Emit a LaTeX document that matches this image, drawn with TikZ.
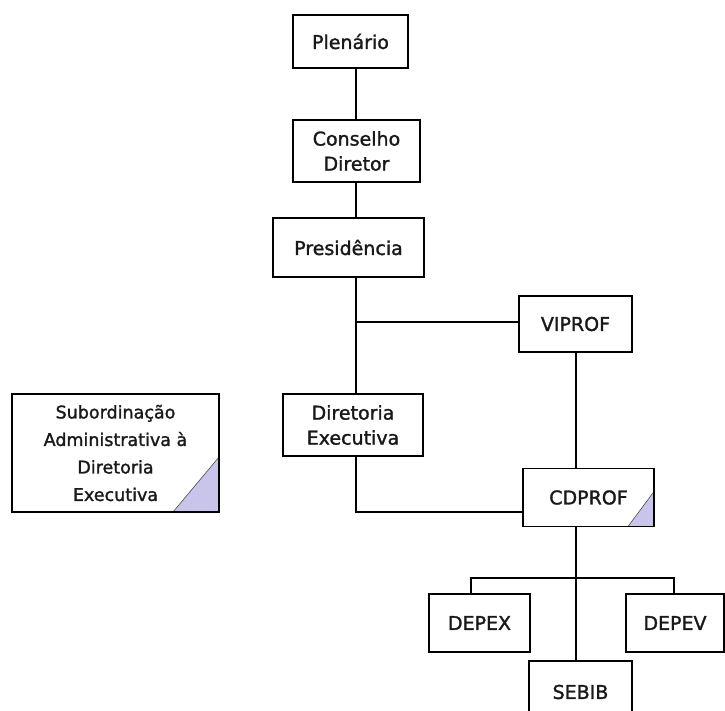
\documentclass[tikz,border=0pt]{standalone}
\usepackage{fontspec}
\setmainfont{DejaVu Sans}[FakeBold=1.5]
\begin{document}
\begin{tikzpicture}[x=1pt,y=-1pt,
  box/.style={draw=black,line width=1.6pt,fill=white,align=center,inner sep=0pt,outer sep=0pt,
    text=black!90,font=\fontsize{19}{25}\selectfont},
  link/.style={draw=black,line width=1.6pt},
  corner/.style={fill={rgb,255:red,200;green,196;blue,234},draw=black!70,line width=0.6pt}]
\clip (0,0) rectangle (725,710);
\fill[white] (0,0) rectangle (725,710);
\coordinate (spine) at (356,0);
\node[box,minimum width=115pt,minimum height=53pt] (plen) at (350.5,41.5) {Plenário};
\node[box,minimum width=127pt,minimum height=62pt] (cons) at (356.5,151) {Conselho\\Diretor};
\node[box,minimum width=151pt,minimum height=59pt] (pres) at (348.5,247.5) {Presidência};
\node[box,minimum width=113pt,minimum height=56pt] (vip) at (575.5,324) {VIPROF};
\node[box,minimum width=140pt,minimum height=62pt] (dir) at (353,425) {Diretoria\\Executiva};
\node[box,minimum width=207pt,minimum height=118pt,font=\fontsize{17.5}{27.5}\selectfont] (sub) at (115.5,453) {Subordinação\\Administrativa à\\Diretoria\\Executiva};
\node[box,minimum width=131pt,minimum height=58pt] (cd) at (588.5,497.5) {CDPROF};
\node[box,minimum width=101pt,minimum height=58pt] (depex) at (479.5,623) {DEPEX};
\node[box,minimum width=98pt,minimum height=58pt] (depev) at (675,623) {DEPEV};
\node[box,minimum width=103pt,minimum height=62pt] (sebib) at (580.5,692) {SEBIB};
% corner triangles
\path[corner] (sub.south east) ++(-46,0) -- (sub.south east) -- ++(0,-55) -- cycle;
\path[corner] (cd.south east) ++(-26,0) -- (cd.south east) -- ++(0,-35) -- cycle;
\draw[line width=1.6pt] (sub.south west) rectangle (sub.north east);
\draw[line width=1.6pt] (cd.south west) rectangle (cd.north east);
% connectors
\coordinate (vx) at (576,0);
\coordinate (jv) at (0,322);
\coordinate (jd) at (0,512);
\coordinate (jb) at (0,578);
\coordinate (lx) at (471,0);
\coordinate (rx) at (674,0);
\draw[link] (plen.south -| spine) -- (cons.north -| spine);
\draw[link] (cons.south -| spine) -- (pres.north -| spine);
\draw[link] (pres.south -| spine) -- (dir.north -| spine);
\draw[link] (spine |- jv) -- (vip.west |- jv);
\draw[link] (dir.south -| spine) -- (spine |- jd) -- (cd.west |- jd);
\draw[link] (vip.south -| vx) -- (cd.north -| vx);
\draw[link] (cd.south -| vx) -- (sebib.north -| vx);
\draw[link] (depex.north -| lx) -- (lx |- jb) -- (rx |- jb) -- (depev.north -| rx);
\end{tikzpicture}
\end{document}
